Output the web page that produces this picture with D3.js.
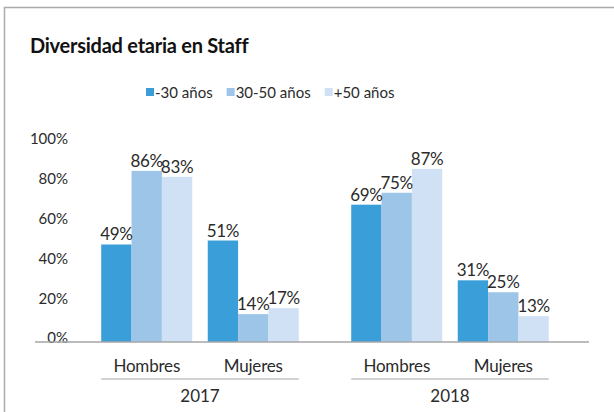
<!DOCTYPE html>
<html>
<head>
<meta charset="utf-8">
<script src="https://cdn.jsdelivr.net/npm/d3@7"></script>
<style>
  body { margin: 0; background: #fff; }
  text { font-family: Lato, "Liberation Sans", sans-serif; fill: #2b2b2b; }
</style>
</head>
<body>
<script>
// data
var years = ['2017', '2018'];
var genders = ['Hombres', 'Mujeres'];
var series = ['-30 años', '30-50 años', '+50 años'];
// order: 2017 Hombres, 2017 Mujeres, 2018 Hombres, 2018 Mujeres
var menos30 = [49, 51, 69, 31];
var entre30y50 = [86, 14, 75, 25];
var mas50 = [83, 17, 87, 13];
var yTicks = [0, 20, 40, 60, 80, 100];

var colors = ['#3a9fd9', '#9cc5e8', '#d0e1f5'];
var seriesValues = [menos30, entre30y50, mas50];

var svg = d3.select('body').append('svg')
    .attr('width', 614)
    .attr('height', 412);

// frame
svg.append('path')
    .attr('d', 'M4.5,412 V7.5 H614')
    .attr('fill', 'none')
    .attr('stroke', '#ababab')
    .attr('stroke-width', 1.5);

svg.append('text')
    .attr('x', 30)
    .attr('y', 53)
    .attr('font-size', 20)
    .attr('font-weight', 'bold')
    .attr('letter-spacing', -0.25)
    .style('fill', '#111')
    .text('Diversidad etaria en Staff');

// legend
var legend = svg.append('g');
var lx = 146;
series.forEach(function(s, i) {
    legend.append('rect')
        .attr('x', lx)
        .attr('y', 88)
        .attr('width', 8)
        .attr('height', 8)
        .attr('fill', colors[i]);
    var t = legend.append('text')
        .attr('x', lx + 9)
        .attr('y', 98)
        .attr('font-size', 15)
        .text(s);
    lx += 9 + t.node().getComputedTextLength() + 14;
});

var y = d3.scaleLinear().domain([0, 100]).range([342, 143]);

var x0 = d3.scaleBand().domain(years).range([75, 575]);
var x1 = d3.scaleBand().domain(genders).range([0, x0.bandwidth()])
    .paddingInner(0.1455).paddingOuter(0.246);
var x2 = d3.scaleBand().domain(series).range([0, x1.bandwidth()]);

// y axis labels
var yAxis = svg.append('g')
    .attr('transform', 'translate(68,-4)')
    .call(d3.axisLeft(y).tickValues(yTicks).tickSize(0).tickPadding(0)
        .tickFormat(function(d) { return d + '%'; }));
yAxis.select('.domain').remove();
yAxis.selectAll('text')
    .attr('font-size', 15)
    .style('font-family', 'Lato, "Liberation Sans", sans-serif')
    .style('fill', '#2b2b2b');

// bars
var cells = [];
years.forEach(function(yr, yi) {
    genders.forEach(function(g, gi) {
        series.forEach(function(s, si) {
            cells.push({ year: yr, gender: g, serie: s, si: si, value: seriesValues[si][yi * 2 + gi] });
        });
    });
});

var xPos = function(d) { return x0(d.year) + x1(d.gender) + x2(d.serie); };

svg.append('g').selectAll('rect')
    .data(cells)
    .enter().append('rect')
    .attr('x', xPos)
    .attr('y', function(d) { return y(d.value); })
    .attr('width', x2.bandwidth())
    .attr('height', function(d) { return y(0) - y(d.value); })
    .attr('fill', function(d) { return colors[d.si]; });

svg.append('g').selectAll('text')
    .data(cells)
    .enter().append('text')
    .attr('x', function(d) { return xPos(d) + x2.bandwidth() / 2; })
    .attr('y', function(d) { return y(d.value) - 4; })
    .attr('text-anchor', 'middle')
    .attr('font-size', 17)
    .attr('letter-spacing', -0.3)
    .text(function(d) { return d.value + '%'; });

// x axis line
svg.append('line')
    .attr('x1', 35)
    .attr('x2', 589)
    .attr('y1', y(0))
    .attr('y2', y(0))
    .attr('stroke', '#a6a6a6')
    .attr('stroke-width', 1.5);

// category labels
years.forEach(function(yr) {
    genders.forEach(function(g) {
        svg.append('text')
            .attr('x', x0(yr) + x1(g) + x1.bandwidth() / 2)
            .attr('y', 372)
            .attr('text-anchor', 'middle')
            .attr('font-size', 17)
            .attr('letter-spacing', -0.2)
            .text(g);
    });
    svg.append('line')
        .attr('x1', x0(yr) + x1(genders[0]))
        .attr('x2', x0(yr) + x1(genders[1]) + x1.bandwidth())
        .attr('y1', 379)
        .attr('y2', 379)
        .attr('stroke', '#a6a6a6')
        .attr('stroke-width', 1.2);
    svg.append('text')
        .attr('x', x0(yr) + x0.bandwidth() / 2)
        .attr('y', 402)
        .attr('text-anchor', 'middle')
        .attr('font-size', 17)
        .text(yr);
});
</script>
</body>
</html>
